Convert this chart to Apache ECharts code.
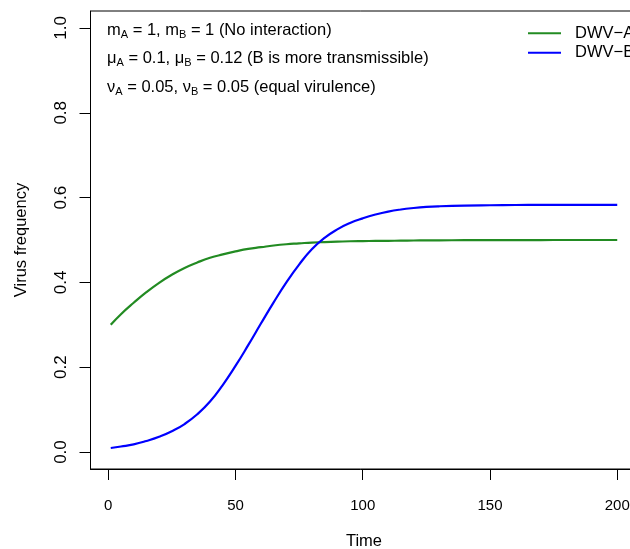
<!DOCTYPE html>
<html>
<head>
<meta charset="utf-8">
<script src="https://cdn.jsdelivr.net/npm/echarts@6/dist/echarts.min.js"></script>
<style>
html,body{margin:0;padding:0;background:#fff;}
#chart{width:630px;height:549px;}
</style>
</head>
<body>
<div id="chart"></div>
<script>
// ---- data ----
const timePoints = [1,5,10,15,20,25,30,35,40,45,50,55,60,65,70,75,80,85,90,95,100,105,110,115,120,125,130,140,150,160,170,180,190,200];
const dwvA = [0.300,0.325,0.352,0.377,0.399,0.418,0.434,0.447,0.458,0.466,0.473,0.479,0.483,0.487,0.490,0.492,0.494,0.495,0.496,0.497,0.4975,0.4978,0.498,0.4984,0.4988,0.499,0.4992,0.4995,0.4997,0.4998,0.4999,0.5,0.5,0.5];
const dwvB = [0.0095,0.013,0.018,0.026,0.036,0.049,0.066,0.089,0.119,0.158,0.203,0.252,0.303,0.353,0.400,0.442,0.478,0.505,0.525,0.540,0.551,0.560,0.567,0.572,0.5755,0.578,0.5795,0.5812,0.582,0.5825,0.5827,0.5828,0.5828,0.5828];
const seriesNames = ['DWV\u2212A','DWV\u2212B'];
const xTicks = [0,50,100,150,200];
const yTicks = [0,0.2,0.4,0.6,0.8,1.0];
const xLabel = 'Time';
const yLabel = 'Virus frequency';
const noteLines = [
  [['m','A',' = 1, '],['m','B',' = 1 (No interaction)']],
  [['\u03bc','A',' = 0.1, '],['\u03bc','B',' = 0.12 (B is more transmissible)']],
  [['\u03bd','A',' = 0.05, '],['\u03bd','B',' = 0.05 (equal virulence)']]
];

const FONT = 'Liberation Sans, Arial, Helvetica, sans-serif';
const chart = echarts.init(document.getElementById('chart'));

function toPairs(ys){ return timePoints.map((t,i)=>[t, ys[i]]); }

function noteText(parts){
  return parts.map(p => '{m|' + p[0] + '}{s|' + p[1] + '}{m|' + p[2] + '}').join('');
}
const noteTops = [21.5, 50, 78.5];
const graphics = noteLines.map((ln, i) => ({
  type: 'text',
  left: 107,
  top: noteTops[i],
  silent: true,
  style: {
    text: noteText(ln),
    rich: {
      m: {fontSize: 16.5, lineHeight: 20, fontFamily: FONT, fill: '#000'},
      s: {fontSize: 11, lineHeight: 9, verticalAlign: 'bottom', fontFamily: FONT, fill: '#000'}
    }
  }
}));

const option = {
  animation: false,
  backgroundColor: '#fff',
  textStyle: {fontFamily: FONT},
  grid: {
    left: 90.5, top: 11, width: 547, height: 458,
    show: true, borderColor: '#000', borderWidth: 1, backgroundColor: 'transparent',
    containLabel: false,
    outerBoundsMode: 'none'
  },
  legend: {
    orient: 'vertical',
    left: 523, top: 19.75,
    icon: 'rect',
    itemWidth: 33, itemHeight: 2,
    itemGap: 2.5,
    textStyle: {fontSize: 16.5, color: '#000', fontFamily: FONT, padding: [0,0,0,9]},
    data: seriesNames
  },
  xAxis: {
    type: 'value',
    min: -6.96, max: 207.96,
    name: xLabel, nameLocation: 'middle', nameGap: 64,
    nameTextStyle: {fontSize: 16.5, color: '#000', fontFamily: FONT},
    splitLine: {show: false},
    axisLine: {show: true, onZero: false, lineStyle: {color: '#000', width: 1}},
    axisTick: {show: true, length: 11, inside: false, customValues: xTicks, lineStyle: {color: '#000'}},
    axisLabel: {show: true, customValues: xTicks, margin: 29, fontSize: 15, color: '#000', fontFamily: FONT,
                formatter: v => String(v)}
  },
  yAxis: {
    type: 'value',
    min: -0.04, max: 1.04,
    name: yLabel, nameLocation: 'middle', nameGap: 61,
    nameTextStyle: {fontSize: 16.5, color: '#000', fontFamily: FONT},
    splitLine: {show: false},
    axisLine: {show: true, onZero: false, lineStyle: {color: '#000', width: 1}},
    axisTick: {show: true, length: 11, inside: false, customValues: yTicks, lineStyle: {color: '#000'}},
    axisLabel: {show: true, customValues: yTicks, margin: 21, rotate: 90, fontSize: 17, color: '#000', fontFamily: FONT,
                formatter: v => Number(v).toFixed(1)}
  },
  series: [
    {name: seriesNames[0], type: 'line', data: toPairs(dwvA), showSymbol: false, symbol: 'none',
     smooth: 0.5, lineStyle: {color: '#228B22', width: 2.2}, itemStyle: {color: '#228B22'}},
    {name: seriesNames[1], type: 'line', data: toPairs(dwvB), showSymbol: false, symbol: 'none',
     smooth: 0.5, lineStyle: {color: '#0000FF', width: 2.2}, itemStyle: {color: '#0000FF'}}
  ],
  graphic: graphics
};
chart.setOption(option);
</script>
</body>
</html>
